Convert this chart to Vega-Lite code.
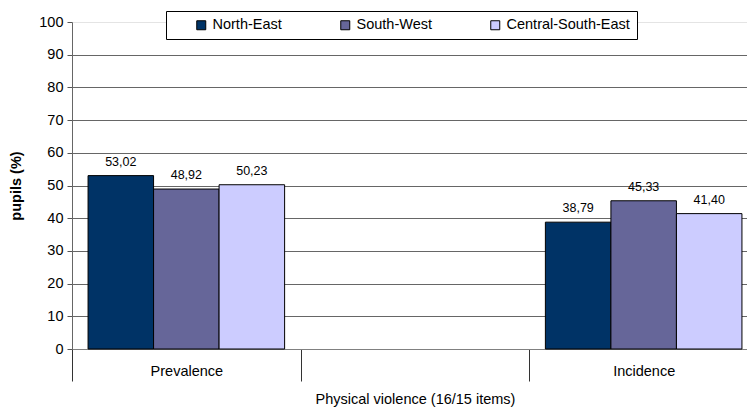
{
  "$schema": "https://vega.github.io/schema/vega-lite/v6.json",
  "autosize": {"type": "none"},
  "padding": {"left": 72, "top": 22, "right": 0, "bottom": 61},
  "width": 675,
  "height": 327,
  "background": "white",
  "config": {
    "font": "Liberation Sans",
    "view": {"stroke": null},
    "locale": {"number": {"decimal": ",", "thousands": ".", "grouping": [3], "currency": ["", " €"]}}
  },
  "data": {
    "values": [
      {"measure": "Prevalence", "region": "North-East", "pupils": 53.02},
      {"measure": "Prevalence", "region": "South-West", "pupils": 48.92},
      {"measure": "Prevalence", "region": "Central-South-East", "pupils": 50.23},
      {"measure": "Incidence", "region": "North-East", "pupils": 38.79},
      {"measure": "Incidence", "region": "South-West", "pupils": 45.33},
      {"measure": "Incidence", "region": "Central-South-East", "pupils": 41.40}
    ]
  },
  "encoding": {
    "x": {
      "field": "measure",
      "type": "nominal",
      "scale": {"domain": ["Prevalence", " ", "Incidence"], "range": [0, 686], "paddingInner": 0, "paddingOuter": 0},
      "axis": {
        "title": "Physical violence (16/15 items)",
        "titleFont": "Liberation Sans",
        "titleFontSize": 14.5,
        "titleFontWeight": "normal",
        "titleColor": "#000",
        "titlePadding": 11,
        "labelAngle": 0,
        "labelFontSize": 14.5,
        "labelColor": "#000",
        "labelPadding": -17,
        "tickBand": "extent",
        "tickSize": 32,
        "tickColor": "#333",
        "tickWidth": 1,
        "domainColor": "#808080",
        "domainWidth": 1,
        "grid": false
      }
    },
    "y": {
      "field": "pupils",
      "type": "quantitative",
      "scale": {"domain": [0, 100], "nice": false},
      "axis": {
        "title": "pupils (%)",
        "titleFontSize": 14.5,
        "titleFontWeight": "bold",
        "titleColor": "#000",
        "titlePadding": 15,
        "values": [0, 10, 20, 30, 40, 50, 60, 70, 80, 90, 100],
        "labelFontSize": 14.5,
        "labelColor": "#000",
        "labelPadding": 4,
        "tickSize": 5,
        "tickColor": "#555",
        "domainColor": "#666",
        "grid": true,
        "gridColor": {"condition": {"test": "datum.value == 100", "value": "#e4e4e4"}, "value": "#666"},
        "gridWidth": 1
      }
    }
  },
  "layer": [
    {
      "mark": {"type": "bar", "stroke": "#000", "strokeWidth": 1},
      "encoding": {
        "xOffset": {
          "field": "region",
          "type": "nominal",
          "sort": ["North-East", "South-West", "Central-South-East"],
          "scale": {"paddingInner": 0, "paddingOuter": 0.245}
        },
        "color": {
          "field": "region",
          "type": "nominal",
          "sort": ["North-East", "South-West", "Central-South-East"],
          "scale": {"domain": ["North-East", "South-West", "Central-South-East"], "range": ["#003366", "#666699", "#CCCCFF"]},
          "legend": {
            "title": null,
            "orient": "none",
            "direction": "horizontal",
            "legendX": 94,
            "legendY": -11,
            "columns": 3,
            "gridAlign": "none",
            "columnPadding": 35,
            "padding": 7,
            "symbolOffset": 21,
            "strokeColor": "#000",
            "fillColor": "#fff",
            "symbolType": "square",
            "symbolSize": 81,
            "symbolStrokeColor": "#000",
            "symbolStrokeWidth": 1,
            "labelFontSize": 14.5,
            "labelColor": "#000",
            "labelOffset": 4,
            "labelLimit": 200
          }
        }
      }
    },
    {
      "mark": {"type": "text", "baseline": "bottom", "dy": -7, "fontSize": 12.5, "color": "#000"},
      "encoding": {
        "xOffset": {
          "field": "region",
          "type": "nominal",
          "sort": ["North-East", "South-West", "Central-South-East"],
          "scale": {"paddingInner": 0, "paddingOuter": 0.245}
        },
        "text": {"field": "pupils", "type": "quantitative", "format": ".2f"}
      }
    },
    {
      "data": {"values": [{"edge": "left"}]},
      "mark": {"type": "rule", "color": "#666", "strokeWidth": 1},
      "encoding": {
        "x": {"datum": "Prevalence", "bandPosition": 0},
        "y": {"datum": 0},
        "y2": {"datum": -20}
      }
    }
  ]
}
